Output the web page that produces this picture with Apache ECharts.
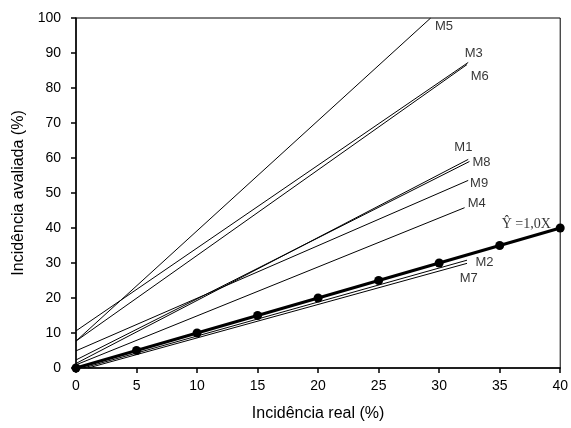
<!DOCTYPE html>
<html>
<head>
<meta charset="utf-8">
<script src="https://cdn.jsdelivr.net/npm/echarts@6/dist/echarts.min.js"></script>
<style>
  html, body { margin: 0; padding: 0; background: #fff; }
  #chart { width: 571px; height: 428px; }
</style>
</head>
<body>
<div id="chart"></div>
<script>
// fitted lines of each model
const modelNames = ['M1', 'M2', 'M3', 'M4', 'M5', 'M6', 'M7', 'M8', 'M9']
const startX = [0, 0.6, 0, 0, 0, 0, 1.0, 0, 0]
const startY = [1.3, 0, 10.6, 0.9, 7.7, 7.7, 0, 2.3, 4.9]
const endX = [32.4, 32.3, 32.4, 32.1, 29.3, 32.3, 32.3, 32.5, 32.4]
const endY = [59.6, 30.8, 87.3, 45.8, 100, 86.7, 29.9, 59.0, 53.6]

// where each model label sits (data units)
const labelX = [32.0, 33.75, 32.85, 33.1, 30.4, 33.35, 32.45, 33.5, 33.3]
const labelY = [63.1, 30.3, 90.0, 47.1, 97.7, 83.4, 25.7, 58.6, 52.6]

// 1:1 reference line
const refX = [0, 5, 10, 15, 20, 25, 30, 35, 40]
const refY = [0, 5, 10, 15, 20, 25, 30, 35, 40]

const xTicks = [0, 5, 10, 15, 20, 25, 30, 35, 40]
const yTicks = [0, 10, 20, 30, 40, 50, 60, 70, 80, 90, 100]

const chart = echarts.init(document.getElementById('chart'))

const lineSeries = modelNames.map((name, i) => ({
  name: name,
  type: 'line',
  data: [[startX[i], startY[i]], [endX[i], endY[i]]],
  showSymbol: false,
  symbol: 'none',
  lineStyle: { color: '#000', width: 1 },
  silent: true,
  z: 2
}))

const font = '"Liberation Sans", Arial, sans-serif'

const option = {
  animation: false,
  backgroundColor: '#fff',
  grid: {
    left: 76,
    right: 8,
    top: 18,
    bottom: 60,
    show: true,
    borderColor: '#000',
    borderWidth: 1
  },
  xAxis: {
    type: 'value',
    min: xTicks[0],
    max: xTicks[xTicks.length - 1],
    interval: 5,
    name: 'Incidência real (%)',
    nameLocation: 'middle',
    nameGap: 38,
    nameTextStyle: { fontFamily: font, fontSize: 16, color: '#000' },
    axisLine: { lineStyle: { color: '#000', width: 1.5 } },
    axisTick: { show: true, inside: false, length: 5, lineStyle: { color: '#000', width: 1.5 } },
    axisLabel: { fontFamily: font, fontSize: 14, color: '#000', margin: 11 },
    splitLine: { show: false }
  },
  yAxis: {
    type: 'value',
    min: yTicks[0],
    max: yTicks[yTicks.length - 1],
    interval: 10,
    name: 'Incidência avaliada (%)',
    nameLocation: 'middle',
    nameGap: 48,
    nameTextStyle: { fontFamily: font, fontSize: 16, color: '#000' },
    axisLine: { lineStyle: { color: '#000', width: 1.5 } },
    axisTick: { show: true, inside: false, length: 5, lineStyle: { color: '#000', width: 1.5 } },
    axisLabel: { fontFamily: font, fontSize: 14, color: '#000', margin: 15 },
    splitLine: { show: false }
  },
  series: [
    ...lineSeries,
    {
      name: 'ref',
      type: 'line',
      data: refX.map((x, i) => [x, refY[i]]),
      symbol: 'circle',
      symbolSize: 9,
      itemStyle: { color: '#000' },
      lineStyle: { color: '#000', width: 3 },
      z: 5,
      silent: true,
      clip: false
    },
    {
      name: 'labels',
      type: 'scatter',
      data: modelNames.map((n, i) => ({ value: [labelX[i], labelY[i]], name: n })),
      symbolSize: 0,
      silent: true,
      label: {
        show: true,
        position: 'inside',
        formatter: (p) => p.name,
        fontFamily: font,
        fontSize: 13,
        color: '#000'
      }
    },
    {
      name: 'refLabel',
      type: 'scatter',
      data: [{ value: [37.2, 41.1], name: 'Ŷ =1,0X' }],
      symbolSize: 0,
      silent: true,
      label: {
        show: true,
        position: 'inside',
        formatter: (p) => p.name,
        fontFamily: '"Liberation Serif", "Times New Roman", serif',
        fontSize: 14,
        color: '#000'
      }
    }
  ]
}

chart.setOption(option)
</script>
</body>
</html>
